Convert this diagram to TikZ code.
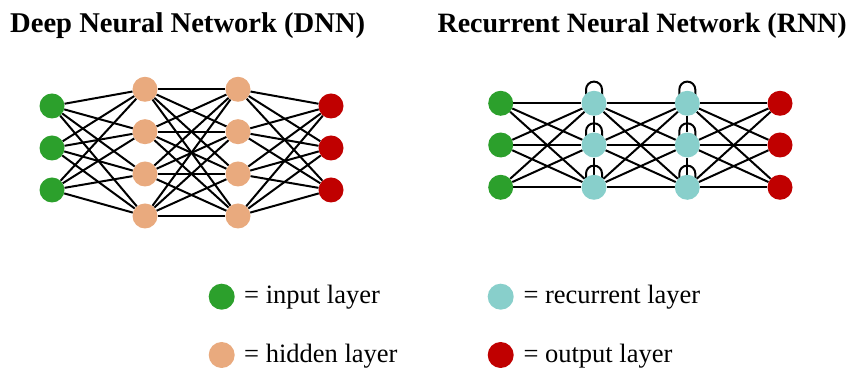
\documentclass[tikz,border=0pt]{standalone}
\usepackage{fontspec}
\setmainfont{Liberation Serif}
\usetikzlibrary{backgrounds}
\definecolor{inputgreen}{RGB}{44,160,44}
\definecolor{hiddenorange}{RGB}{233,170,126}
\definecolor{recurteal}{RGB}{136,207,203}
\definecolor{outputred}{RGB}{192,0,0}
\tikzset{
  neuron/.style={circle, minimum size=25pt, inner sep=0pt, draw=none},
  inn/.style={neuron, fill=inputgreen},
  hid/.style={neuron, fill=hiddenorange},
  rec/.style={neuron, fill=recurteal},
  outn/.style={neuron, fill=outputred},
  legdot/.style={circle, minimum size=26pt, inner sep=0pt, draw=none},
  conn/.style={line width=2pt, black},
  titletext/.style={inner sep=0pt, font=\fontsize{28.6}{33}\selectfont\bfseries},
  legtext/.style={anchor=base west, inner sep=0pt, font=\fontsize{26.5}{30}\selectfont},
}
\begin{document}
\begin{tikzpicture}[x=1pt,y=1pt]
\useasboundingbox (0,0) rectangle (851,371);

% titles
\node[titletext, anchor=base west] (t1) at (10,338) {Deep Neural Network (DNN)};
\node[titletext, anchor=base east, font=\fontsize{28}{33}\selectfont\bfseries] (t2) at (847,338) {Recurrent Neural Network (RNN)};

% ---------- DNN ----------
\foreach \i/\y in {1/265,2/223,3/181} {
  \node[inn] (di\i) at (52,\y) {};
  \node[outn] (do\i) at (331,\y) {};
}
\foreach \i/\y in {1/281.7,2/239.3,3/197,4/155} {
  \node[hid] (da\i) at (145,\y) {};
  \node[hid] (db\i) at (238,\y) {};
}
\begin{scope}[on background layer]
  \foreach \i in {1,2,3} \foreach \j in {1,2,3,4} {
    \draw[conn] (di\i) -- (da\j);
    \draw[conn] (db\j) -- (do\i);
  }
  \foreach \i in {1,2,3,4} \foreach \j in {1,2,3,4}
    \draw[conn] (da\i) -- (db\j);
\end{scope}

% ---------- RNN ----------
\foreach \i/\y in {1/267.7,2/226,3/183.7} {
  \node[inn] (ri\i) at (500.7,\y) {};
  \node[rec] (ra\i) at (594,\y) {};
  \node[rec] (rb\i) at (687.3,\y) {};
  \node[outn] (ro\i) at (780,\y) {};
}
\begin{scope}[on background layer]
  \foreach \i in {1,2,3} \foreach \j in {1,2,3} {
    \draw[conn] (ri\i) -- (ra\j);
    \draw[conn] (ra\i) -- (rb\j);
    \draw[conn] (rb\i) -- (ro\j);
  }
  % links inside each recurrent layer
  \foreach \l in {ra,rb} {
    \draw[conn] (\l1) -- (\l2);
    \draw[conn] (\l2) -- (\l3);
    % self loops
    \foreach \i in {1,2,3}
      \draw[conn] ([xshift=-8pt,yshift=-6pt]\l\i.north) -- ++(0,7)
        arc[start angle=180, end angle=0, radius=8pt] -- ++(0,-7);
  }
\end{scope}

% ---------- legend ----------
\node[legdot, fill=inputgreen] (l1) at (221.7,74.3) {};
\node[legtext] (l1t) at (244,67) {= input layer};
\node[legdot, fill=hiddenorange] (l2) at (221.7,16) {};
\node[legtext] (l2t) at (244,8.3) {= hidden layer};
\node[legdot, fill=recurteal] (l3) at (500.7,74.3) {};
\node[legtext] (l3t) at (523.3,67) {= recurrent layer};
\node[legdot, fill=outputred] (l4) at (500.7,16) {};
\node[legtext] (l4t) at (523.3,8.3) {= output layer};
\end{tikzpicture}
\end{document}
